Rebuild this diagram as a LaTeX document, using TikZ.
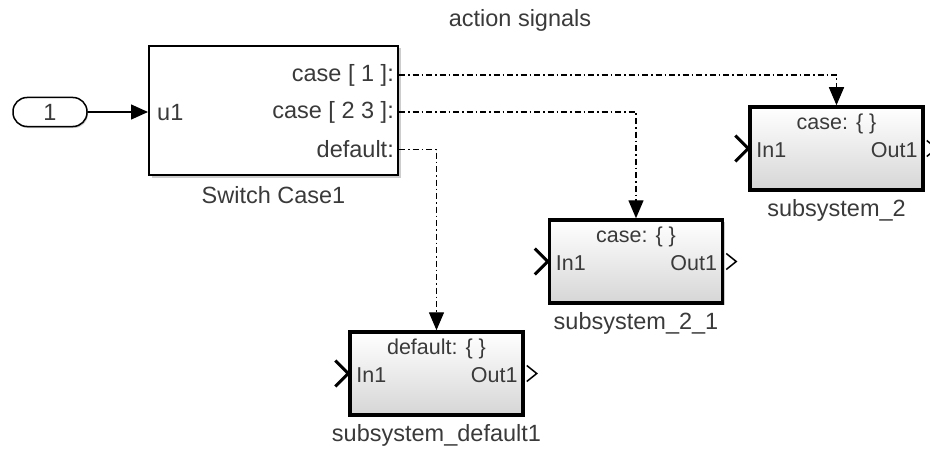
\documentclass[tikz,border=0pt]{standalone}
\usepackage{fontspec}
\setmainfont{Liberation Sans}
\usetikzlibrary{positioning, shadows, arrows.meta}
\definecolor{label-gray}{HTML}{3A3A3A}
\definecolor{shade-gray}{HTML}{D6D6D6}
\definecolor{shadow-gray}{HTML}{9C9C9C}

\begin{document}
\begin{tikzpicture}[x=1pt, y=-1pt,
      every node/.style={font=\fontsize{23.5}{26}\selectfont, text=label-gray, inner sep=0pt},
      small/.style={font=\fontsize{21.5}{24}\selectfont},
      subsys/.style={draw=black, line width=3.5pt, top color=white, bottom color=shade-gray,
          minimum width=173pt, minimum height=83pt,
          drop shadow={shadow xshift=2pt, shadow yshift=-2pt, fill=shadow-gray}},
      portin/.style={line width=3pt, line join=miter},
      portout/.style={line width=1.5pt, line join=miter},
      actsig/.style={line width=1.4pt, dash pattern=on 6pt off 3pt on 1.5pt off 3pt,
          -{Triangle[width=15pt, length=18pt]}}]
    \useasboundingbox (0,0) rectangle (930,452);
    \node (TITLE) at (520,20) {action signals};
    % inport and switch case block
    \node[draw=black, line width=1.5pt, fill=white, rounded corners=14pt,
          minimum width=74pt, minimum height=29pt,
          drop shadow={shadow xshift=1pt, shadow yshift=-1.5pt, fill=shadow-gray}]
          (IN) at (50,112) {1};
    \node[draw=black, line width=2pt, fill=white, minimum width=249pt,
          minimum height=129pt,
          drop shadow={shadow xshift=2.5pt, shadow yshift=-2.5pt, fill=shadow-gray}]
          (SW) at (273.5,110.5) {};
    \node[anchor=west] (U1) at (157,113) {u1};
    \node[anchor=east] (C1) at (394,75) {case [ 1 ]:};
    \node[anchor=east] (C23) at (394,112) {case [ 2 3 ]:};
    \node[anchor=east] (CD) at (394,149.5) {default:};
    \node[below=10pt of SW] (SWL) {Switch Case1};
    \draw[line width=1.4pt, -{Triangle[width=15pt, length=17pt]}] (IN) -- (SW.west |- IN);
    % action subsystems
    \node[subsys] (S2) at (836.5,148.5) {};
    \node[subsys] (S21) at (636,261.5) {};
    \node[subsys] (SD) at (436.5,373.5) {};
    \node[small, below=8pt of S2.north] (S2T) {case: \{ \}};
    \node[small, below=8pt of S21.north] (S21T) {case: \{ \}};
    \node[small, below=8pt of SD.north] (SDT) {default: \{ \}};
    \foreach \blk in {S2, S21, SD} {
      \node[small, anchor=west] (\blk in) at ([xshift=8pt, yshift=-2pt]\blk.west) {In1};
      \node[small, anchor=east] (\blk out) at ([xshift=-7pt, yshift=-2pt]\blk.east) {Out1};
      \draw[portin] ([xshift=-13pt, yshift=13pt]\blk.west) -- (\blk.west)
          -- ([xshift=-13pt, yshift=-13pt]\blk.west);
      \draw[portout] ([xshift=2pt, yshift=8pt]\blk.east) -- ([xshift=12pt]\blk.east)
          -- ([xshift=2pt, yshift=-8pt]\blk.east);
    }
    \node[below=8pt of S2] (S2L) {subsystem\_2};
    \node[below=8pt of S21] (S21L) {subsystem\_2\_1};
    \node[below=8pt of SD] (SDL) {subsystem\_default1};
    % action signals
    \draw[actsig] (SW.east |- C1) -| (S2.north);
    \draw[actsig] (SW.east |- C23) -| (S21.north);
    \draw[actsig] (SW.east |- CD) -| (SD.north);
  \end{tikzpicture}
\end{document}
